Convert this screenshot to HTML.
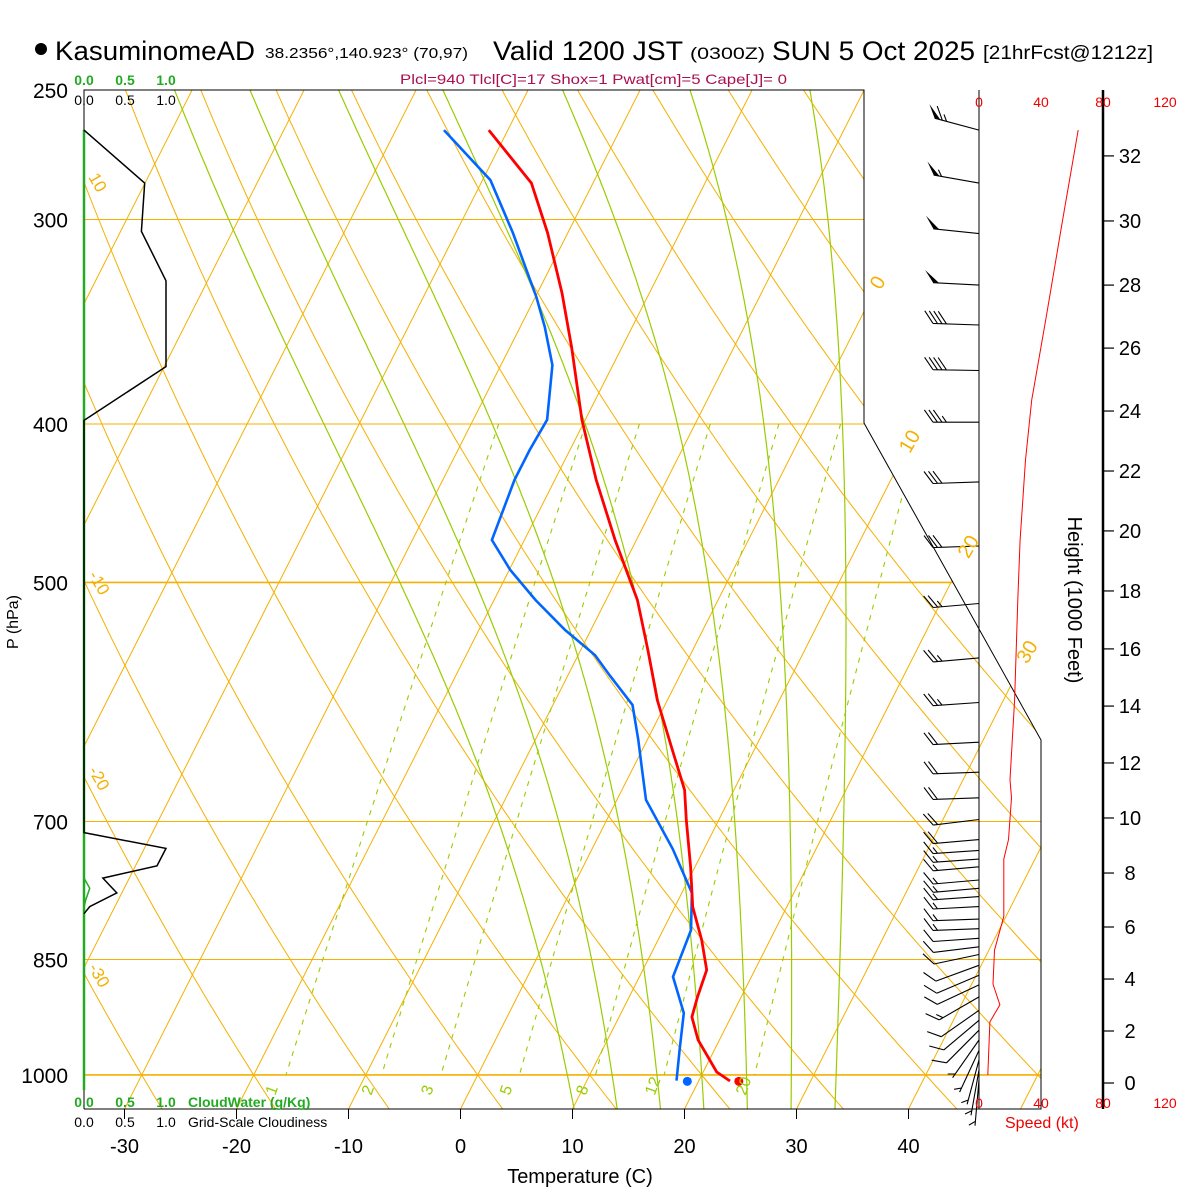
<!DOCTYPE html>
<html><head><meta charset="utf-8"><title>Skew-T KasuminomeAD</title>
<style>
html,body{margin:0;padding:0;background:#fff;}
svg{display:block;font-family:"Liberation Sans",Arial,sans-serif;}
</style></head>
<body>
<svg id="chart" width="1200" height="1200" viewBox="0 0 1200 1200" xmlns="http://www.w3.org/2000/svg">
<defs>
<clipPath id="plotclip"><polygon points="84,90 864,90 864,423 1041,740 1041,1109 84,1109"/></clipPath>
</defs>
<rect x="0" y="0" width="1200" height="1200" fill="#fff"/>
<g id="title">
<circle cx="41" cy="49" r="6" fill="#000"/>
<text x="55" y="60" font-size="27" textLength="200" lengthAdjust="spacingAndGlyphs">KasuminomeAD</text>
<text x="265" y="58" font-size="15" textLength="203" lengthAdjust="spacingAndGlyphs">38.2356°,140.923° (70,97)</text>
<text x="493" y="60" font-size="27" textLength="190" lengthAdjust="spacingAndGlyphs">Valid 1200 JST</text>
<text x="690" y="59" font-size="17" textLength="75" lengthAdjust="spacingAndGlyphs">(0300Z)</text>
<text x="772" y="60" font-size="27" textLength="203" lengthAdjust="spacingAndGlyphs">SUN 5 Oct 2025</text>
<text x="983" y="59" font-size="19" textLength="170" lengthAdjust="spacingAndGlyphs">[21hrFcst@1212z]</text>
<text x="400" y="84" font-size="14" fill="#a8104f" textLength="387" lengthAdjust="spacingAndGlyphs">Plcl=940 Tlcl[C]=17 Shox=1 Pwat[cm]=5 Cape[J]= 0</text>
</g>
<g id="grid" clip-path="url(#plotclip)"></g>
<g id="frame">
<polyline points="84,1109 84,90 864,90 864,423 1041,740 1041,1109 84,1109" fill="none" stroke="#000" stroke-width="1"/>
<line x1="84" y1="130" x2="84" y2="1090" stroke="#22aa22" stroke-width="2.5"/>
<line x1="979" y1="90" x2="979" y2="1109" stroke="#000" stroke-width="1"/>
<line x1="1103" y1="90" x2="1103" y2="1109" stroke="#000" stroke-width="2.5"/>
</g>
<g id="profiles"></g>
<g id="axes">
<text x="18" y="622" font-size="16" text-anchor="middle" transform="rotate(-90 18 622)">P (hPa)</text>
<text x="580" y="1183" font-size="20" text-anchor="middle">Temperature (C)</text>
<text x="1068" y="600" font-size="20" text-anchor="middle" transform="rotate(90 1068 600)">Height (1000 Feet)</text>
<text x="1005" y="1128" font-size="16" fill="#e00">Speed (kt)</text>
<g font-size="14" font-weight="bold" fill="#22aa22" text-anchor="middle">
<text x="84" y="85">0.0</text><text x="125" y="85">0.5</text><text x="166" y="85">1.0</text></g>
<g font-size="14" fill="#000" text-anchor="middle">
<text x="84" y="105">0.0</text><text x="125" y="105">0.5</text><text x="166" y="105">1.0</text></g>
<g font-size="14" font-weight="bold" fill="#22aa22">
<text x="84" y="1107" text-anchor="middle">0.0</text><text x="125" y="1107" text-anchor="middle">0.5</text><text x="166" y="1107" text-anchor="middle">1.0</text><text x="188" y="1107">CloudWater (g/Kg)</text></g>
<g font-size="14" fill="#000">
<text x="84" y="1127" text-anchor="middle">0.0</text><text x="125" y="1127" text-anchor="middle">0.5</text><text x="166" y="1127" text-anchor="middle">1.0</text><text x="188" y="1127">Grid-Scale Cloudiness</text></g>
</g>
</svg>
<script>
// ---- data ----
const pressureLevels = [250, 300, 400, 500, 700, 850, 1000];
const tempTicks = [-30, -20, -10, 0, 10, 20, 30, 40];
const speedTicks = [0, 40, 80, 120];
const heightTicksKft = [0, 2, 4, 6, 8, 10, 12, 14, 16, 18, 20, 22, 24, 26, 28, 30, 32];
const heightTickP = [1011.4, 940, 873.7, 812, 752.6, 696.5, 644.6, 595, 549, 506, 465, 427.4, 392.8, 359.5, 329, 300.6, 274.3];
const tempP = [264.5, 285, 305.7, 332.7, 359, 397.7, 432.8, 471, 512.5, 549.9, 590, 633, 669.6, 698.4, 746, 789.4, 827, 862.7, 896, 921.6, 952, 995.8, 1008.6];
const tempC = [-41.7, -35.5, -31.8, -27.8, -24.5, -20.3, -16.3, -11.9, -7.2, -4.0, -0.9, 2.7, 5.6, 7.1, 9.6, 11.6, 13.9, 15.7, 16.1, 16.5, 18.1, 21.2, 22.8];
const dewP = [264.5, 283.8, 305.7, 334.6, 349, 368.2, 397.7, 415, 432.8, 471, 491.3, 512.5, 534.6, 553.8, 569.6, 594, 624, 651, 679, 727.5, 774, 815.5, 871, 916.5, 965.5, 1008];
const dewC = [-45.7, -39.3, -34.9, -29.9, -27.8, -25.4, -23.4, -23.6, -23.6, -22.9, -19.9, -16.3, -12.3, -8.5, -6.3, -2.9, -0.8, 0.9, 2.6, 7.2, 10.9, 12.5, 13.0, 15.6, 16.9, 18.0];
const sfcP = [1009];
const sfcT = [23.6];
const sfcTd = [19.0];
const cloudP = [264.5, 285, 305, 327, 369, 398, 711, 727, 745, 758, 774, 789, 797];
const cloudFrac = [0, 0.74, 0.70, 1.0, 1.0, 0, 0, 1.0, 0.89, 0.23, 0.40, 0.07, 0];
const cwP = [750, 758, 769, 782, 790];
const cwVal = [0, 0, 0.07, 0.02, 0];
const windP = [264.5, 285, 306, 329, 348, 371, 399, 434, 475, 515, 556, 592, 626, 653, 677, 698, 718, 729, 738, 746, 760, 769, 778, 789, 803, 814, 825, 835, 844, 857, 869, 881, 896, 913, 926, 939, 952, 966, 979, 993, 1007];
const windDir = [285, 280, 276, 273, 272, 271, 270, 268, 268, 265, 265, 266, 267, 268, 268, 263, 265, 266, 266, 265, 265, 265, 266, 267, 268, 268, 266, 263, 258, 250, 247, 245, 240, 235, 230, 225, 215, 205, 195, 190, 185];
const windSpd = [64, 54, 50, 48, 42, 38, 34, 31, 28, 26, 24, 23, 22, 20, 20, 19, 18, 17, 16, 16, 16, 16, 16, 15, 14, 13, 12, 11, 10, 9, 10, 12, 13, 12, 10, 8, 7, 6, 6, 5, 5];
const speedP = [264.5, 300, 345.6, 386.8, 420.8, 471, 512.5, 590, 660, 677, 718, 738, 800, 839, 880, 906, 928, 1000];
const speedKt = [64, 54, 43, 34, 30, 26.5, 25, 23, 20, 21, 19, 16, 16, 10, 9, 13.5, 7, 5.7];
const dryAdiabatsC = [-40, -30, -20, -10, 0, 10, 20, 30, 40, 50, 60, 70, 80, 90, 100, 110, 120];
const dryLabels = [10, -10, -20, -30];
const isotherms = [-90, -80, -70, -60, -50, -40, -30, -20, -10, 0, 10, 20, 30, 40, 50];
const isoLabels = [0, 10, 20, 30];
const moistThetaW = [8, 12, 16, 20, 24, 28, 32];
const mixRatios = [1, 2, 3, 5, 8, 12, 20];

// ---- axis functions ----
const Y0 = 90, PSCALE = 710.5, X0 = 460.5, DEG = 11.2, SKEW = 0.506, YB = 1109;
function yP(p) { return Y0 + PSCALE * Math.log(p / 250); }
function xT(t, p) { return X0 + DEG * t + SKEW * (YB - yP(p)); }
function xCloud(f) { return 84 + 82 * f; }
function xSpd(s) { return 979 + 1.55 * s; }
const NS = 'http://www.w3.org/2000/svg';
function mk(tag, parent) { const e = document.createElementNS(NS, tag); parent.appendChild(e); return e; }
const grid = document.getElementById('grid');
const prof = document.getElementById('profiles');
const axes = document.getElementById('axes');
const ORANGE = '#f5b000', GREEN = '#99cc00';

// pressure lines
pressureLevels.forEach(function (p) {
  const l = mk('line', grid);
  
  
  l.setAttribute('x1', 84); l.setAttribute('x2', 1041);
  l.setAttribute('y1', yP(p)); l.setAttribute('y2', yP(p));
  l.setAttribute('stroke', ORANGE); l.setAttribute('stroke-width', (p === 500 || p === 1000) ? 1.6 : 1);
  const t = mk('text', axes);
  
  
  t.setAttribute('x', 68); t.setAttribute('y', yP(p) + 8);
  t.setAttribute('font-size', 21); t.setAttribute('text-anchor', 'end');
  t.textContent = p;
});
// isotherms
isotherms.forEach(function (T) {
  const l = mk('line', grid);
  
  
  l.setAttribute('x1', X0 + DEG * T); l.setAttribute('y1', YB);
  l.setAttribute('x2', X0 + DEG * T + SKEW * (YB - 60)); l.setAttribute('y2', 60);
  l.setAttribute('stroke', ORANGE); l.setAttribute('stroke-width', 1);
});
isoLabels.forEach(function (T) {
  // find where isotherm meets right border
  let yc;
  if (T <= 0) { yc = YB - (864 - X0 - DEG * T) / SKEW; }
  else { yc = (X0 + DEG * T + SKEW * YB - 864 + 0.558 * 423) / (SKEW + 0.558); }
  const ly = yc - 21, lx = X0 + DEG * T + SKEW * (YB - ly) + 6;
  const t = mk('text', axes);
  
  
  t.setAttribute('x', lx); t.setAttribute('y', ly);
  t.setAttribute('font-size', 20); t.setAttribute('fill', ORANGE);
  t.setAttribute('transform', 'rotate(-60 ' + lx + ' ' + ly + ')');
  t.textContent = T;
});
// dry adiabats
function dryT(thC, p) { return (thC + 273.15) * Math.pow(p / 1000, 0.286) - 273.15; }
dryAdiabatsC.forEach(function (th) {
  let pts = [];
  for (let p = 240; p <= 1060; p += 10) pts.push(xT(dryT(th, p), p).toFixed(1) + ',' + yP(p).toFixed(1));
  const l = mk('polyline', grid);
  
  
  l.setAttribute('points', pts.join(' '));
  l.setAttribute('fill', 'none'); l.setAttribute('stroke', ORANGE); l.setAttribute('stroke-width', 1);
});
dryLabels.forEach(function (th) {
  // find p where dry adiabat crosses x=84
  let best = 250, bd = 1e9;
  for (let p = 250; p <= 1050; p += 1) { const d = Math.abs(xT(dryT(th, p), p) - 84); if (d < bd) { bd = d; best = p; } }
  const lx = 88, ly = yP(best) - 6;
  const t = mk('text', axes);
  
  
  t.setAttribute('x', lx); t.setAttribute('y', ly);
  t.setAttribute('font-size', 17); t.setAttribute('fill', ORANGE);
  t.setAttribute('transform', 'rotate(60 ' + lx + ' ' + ly + ')');
  t.textContent = th;
});
// moist adiabats
function es(Tk) { return 6.112 * Math.exp(17.67 * (Tk - 273.15) / (Tk - 29.65)); }
function dTdp(Tk, p) {
  const e = es(Tk), rs = 0.622 * e / (p - e);
  const num = (287 * Tk + 2.5e6 * rs) / p;
  const den = 1004 + (2.5e6 * 2.5e6 * rs * 0.622) / (287 * Tk * Tk);
  return num / den;
}
moistThetaW.forEach(function (tw) {
  let up = [], Tk = tw + 273.15;
  for (let p = 1000; p >= 240; p -= 2) { up.push([p, Tk]); Tk -= dTdp(Tk, p) * 2; }
  let dn = []; Tk = tw + 273.15;
  for (let p = 1000; p <= 1060; p += 2) { dn.push([p, Tk]); Tk += dTdp(Tk, p) * 2; }
  const all = dn.reverse().concat(up);
  const pts = all.map(function (q) { return xT(q[1] - 273.15, q[0]).toFixed(1) + ',' + yP(q[0]).toFixed(1); });
  const l = mk('polyline', grid);
  
  
  l.setAttribute('points', pts.join(' '));
  l.setAttribute('fill', 'none'); l.setAttribute('stroke', GREEN); l.setAttribute('stroke-width', 1.2);
});
// mixing ratio lines
function tdFromW(w, p) { const e = w * p / (622 + w); const a = Math.log(e / 6.112); return 243.5 * a / (17.67 - a); }
mixRatios.forEach(function (w) {
  let pts = [];
  for (let p = 400; p <= 1000; p += 10) pts.push(xT(tdFromW(w, p), p).toFixed(1) + ',' + yP(p).toFixed(1));
  const l = mk('polyline', grid);
  
  
  l.setAttribute('points', pts.join(' '));
  l.setAttribute('fill', 'none'); l.setAttribute('stroke', GREEN); l.setAttribute('stroke-width', 1.1);
  l.setAttribute('stroke-dasharray', '5,6');
  const lp = 1030, lx = xT(tdFromW(w, lp), lp) - 4, ly = yP(lp);
  const t = mk('text', axes);
  
  
  t.setAttribute('x', lx); t.setAttribute('y', ly);
  t.setAttribute('font-size', 16); t.setAttribute('fill', GREEN);
  t.setAttribute('transform', 'rotate(-70 ' + lx + ' ' + ly + ')');
  t.textContent = w;
});
// temperature ticks
tempTicks.forEach(function (T) {
  const x = X0 + DEG * T;
  const l = mk('line', axes);
  
  
  l.setAttribute('x1', x); l.setAttribute('x2', x); l.setAttribute('y1', YB); l.setAttribute('y2', 1119);
  l.setAttribute('stroke', '#000');
  const t = mk('text', axes);
  
  
  t.setAttribute('x', x); t.setAttribute('y', 1153);
  t.setAttribute('font-size', 20); t.setAttribute('text-anchor', 'middle');
  t.textContent = T;
});
// speed ticks
speedTicks.forEach(function (s) {
  [107, 1108].forEach(function (yy) {
    const t = mk('text', axes);
    
    
    t.setAttribute('x', xSpd(s)); t.setAttribute('y', yy);
    t.setAttribute('font-size', 14); t.setAttribute('fill', '#e00'); t.setAttribute('text-anchor', 'middle');
    t.textContent = s;
  });
});
// height ticks
heightTicksKft.forEach(function (h, i) {
  const y = yP(heightTickP[i]);
  const l = mk('line', axes);
  
  
  l.setAttribute('x1', 1103); l.setAttribute('x2', 1114); l.setAttribute('y1', y); l.setAttribute('y2', y);
  l.setAttribute('stroke', '#000'); l.setAttribute('stroke-width', 1.2);
  const t = mk('text', axes);
  
  
  t.setAttribute('x', 1130); t.setAttribute('y', y + 7);
  t.setAttribute('font-size', 20); t.setAttribute('text-anchor', 'middle');
  t.textContent = h;
});
// cloud profiles
(function () {
  const l = mk('polyline', prof);
  
  
  l.setAttribute('points', cloudP.map(function (p, i) { return xCloud(cloudFrac[i]) + ',' + yP(p).toFixed(1); }).join(' '));
  l.setAttribute('fill', 'none'); l.setAttribute('stroke', '#000'); l.setAttribute('stroke-width', 1.5);
  const g = mk('polyline', prof);
  
  
  g.setAttribute('points', cwP.map(function (p, i) { return xCloud(cwVal[i]) + ',' + yP(p).toFixed(1); }).join(' '));
  g.setAttribute('fill', 'none'); g.setAttribute('stroke', '#22aa22'); g.setAttribute('stroke-width', 1.5);
})();
// speed profile
(function () {
  const l = mk('polyline', prof);
  
  
  l.setAttribute('points', speedP.map(function (p, i) { return xSpd(speedKt[i]).toFixed(1) + ',' + yP(p).toFixed(1); }).join(' '));
  l.setAttribute('fill', 'none'); l.setAttribute('stroke', '#f00'); l.setAttribute('stroke-width', 1);
})();
// temperature & dewpoint
(function () {
  const d = mk('polyline', prof);
  
  
  d.setAttribute('points', dewP.map(function (p, i) { return xT(dewC[i], p).toFixed(1) + ',' + yP(p).toFixed(1); }).join(' '));
  d.setAttribute('fill', 'none'); d.setAttribute('stroke', '#0066ff'); d.setAttribute('stroke-width', 2.6);
  const t = mk('polyline', prof);
  
  
  t.setAttribute('points', tempP.map(function (p, i) { return xT(tempC[i], p).toFixed(1) + ',' + yP(p).toFixed(1); }).join(' '));
  t.setAttribute('fill', 'none'); t.setAttribute('stroke', '#ff0000'); t.setAttribute('stroke-width', 2.8);
  const c1 = mk('circle', prof);
  
  
  c1.setAttribute('cx', xT(sfcTd[0], sfcP[0])); c1.setAttribute('cy', yP(sfcP[0]));
  c1.setAttribute('r', 4.5); c1.setAttribute('fill', '#0066ff');
  const c2 = mk('circle', prof);
  
  
  c2.setAttribute('cx', xT(sfcT[0], sfcP[0])); c2.setAttribute('cy', yP(sfcP[0]));
  c2.setAttribute('r', 4.5); c2.setAttribute('fill', '#ff0000');
})();
// wind barbs
windP.forEach(function (p, i) {
  const d = windDir[i] * Math.PI / 180, L = 46;
  const ux = Math.sin(d), uy = -Math.cos(d);
  const bx = 979, by = yP(p);
  const tx = bx + L * ux, ty = by + L * uy;
  const th = 55 * Math.PI / 180;
  const fx = ux * Math.cos(th) - uy * Math.sin(th), fy = ux * Math.sin(th) + uy * Math.cos(th);
  const g = mk('g', prof);
  
  
  let parts = ['M' + bx + ',' + by.toFixed(1) + 'L' + tx.toFixed(1) + ',' + ty.toFixed(1)];
  let s = Math.round(windSpd[i] / 5) * 5, pos = 0, fl = 15;
  let fills = [];
  while (s >= 50) {
    const ax = tx - ux * pos, ay = ty - uy * pos;
    const cx = tx - ux * (pos + 6), cy = ty - uy * (pos + 6);
    fills.push('M' + ax.toFixed(1) + ',' + ay.toFixed(1) + 'L' + (ax + fx * fl).toFixed(1) + ',' + (ay + fy * fl).toFixed(1) + 'L' + cx.toFixed(1) + ',' + cy.toFixed(1) + 'Z');
    pos += 8; s -= 50;
  }
  while (s >= 10) {
    const ax = tx - ux * pos, ay = ty - uy * pos;
    parts.push('M' + ax.toFixed(1) + ',' + ay.toFixed(1) + 'l' + (fx * fl).toFixed(1) + ',' + (fy * fl).toFixed(1));
    pos += 4.5; s -= 10;
  }
  if (s >= 5) {
    if (pos === 0) pos = 4.5;
    const ax = tx - ux * pos, ay = ty - uy * pos;
    parts.push('M' + ax.toFixed(1) + ',' + ay.toFixed(1) + 'l' + (fx * fl / 2).toFixed(1) + ',' + (fy * fl / 2).toFixed(1));
  }
  const path = mk('path', g);
  
  
  path.setAttribute('d', parts.join(''));
  path.setAttribute('stroke', '#000'); path.setAttribute('stroke-width', 1.1); path.setAttribute('fill', 'none');
  if (fills.length) {
    const pn = mk('path', g);
    
    
    pn.setAttribute('d', fills.join(''));
    pn.setAttribute('fill', '#000');
  }
});
</script>
</body></html>
